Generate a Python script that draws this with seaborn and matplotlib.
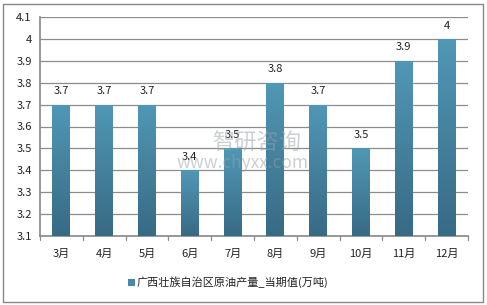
import matplotlib
matplotlib.use("Agg")
import matplotlib.pyplot as plt
import seaborn as sns
import numpy as np
import pandas as pd
from matplotlib.patches import Rectangle

months = ["3月", "4月", "5月", "6月", "7月", "8月", "9月", "10月", "11月", "12月"]
values = [3.7, 3.7, 3.7, 3.4, 3.5, 3.8, 3.7, 3.5, 3.9, 4.0]
value_labels = ["3.7", "3.7", "3.7", "3.4", "3.5", "3.8", "3.7", "3.5", "3.9", "4"]
series_name = "广西壮族自治区原油产量_当期值(万吨)"
yticks = [3.1, 3.2, 3.3, 3.4, 3.5, 3.6, 3.7, 3.8, 3.9, 4.0, 4.1]
ytick_labels = ["3.1", "3.2", "3.3", "3.4", "3.5", "3.6", "3.7", "3.8", "3.9", "4", "4.1"]

sns.set_theme(style="white")
plt.rcParams['font.family'] = ['Noto Sans CJK SC', 'DejaVu Sans']

df = pd.DataFrame({"month": months, "value": values})

fig = plt.figure(figsize=(4.87, 3.05), dpi=100)
ax = fig.add_axes([40/487, 1-236/305, 428/487, 219/305])

base = 3.1
sns.barplot(data=df, x="month", y=np.array(values) - base, ax=ax, color="#4a89a6",
            width=0.42, saturation=1, bottom=base)

ax.set_ylim(3.1, 4.1)
ax.set_xlim(-0.5, len(months) - 0.5)

# gradient fill
top_c = np.array([0x50, 0x98, 0xb6]) / 255
bot_c = np.array([0x38, 0x6a, 0x84]) / 255
grad = np.linspace(0, 1, 256)[:, None]
img = top_c[None, None, :] * (1 - grad[:, :, None]) + bot_c[None, None, :] * grad[:, :, None]
for p in ax.patches:
    x0, y0 = p.get_x(), p.get_y()
    w, h = p.get_width(), p.get_height()
    im = ax.imshow(img, extent=[x0, x0 + w, y0, y0 + h], aspect="auto", zorder=3,
                   origin="upper")
    im.set_clip_path(p)
    p.set_edgecolor("none")

ax.set_yticks(yticks)
ax.set_yticklabels(ytick_labels)
ax.yaxis.grid(True, color="#8c8c8c", linewidth=0.9)
ax.set_axisbelow(True)
for s in ["top", "right"]:
    ax.spines[s].set_visible(False)
ax.spines["left"].set_color("#8c8c8c")
ax.spines["bottom"].set_color("#8c8c8c")
ax.tick_params(axis="y", length=0, labelsize=8, pad=6, colors="#222222")
ax.tick_params(axis="x", length=0, labelsize=8, pad=9, colors="#222222")
ax.set_xlabel("")
ax.set_ylabel("")

# category boundary tick marks
for b in np.arange(-0.5, len(months), 1.0):
    ax.plot([b, b], [3.1, 3.1 - 0.018], color="#8c8c8c", lw=0.9, clip_on=False, zorder=4)

for i, (v, lab) in enumerate(zip(values, value_labels)):
    ax.annotate(lab, (i, v), xytext=(0, 6), textcoords="offset points",
                ha="center", va="bottom", fontsize=8, color="#222222", zorder=6)

# watermark
fig.text(257/487, 1-143/305, "智研咨询", fontsize=16, color="#9aa0a6", alpha=0.5,
         ha="center", va="center", zorder=10)
fig.text(243/487, 1-163/305, "www.chyxx.com", fontsize=12.5, color="#9aa0a6", alpha=0.5,
         ha="center", va="center", zorder=10)

# legend
fig.patches.append(Rectangle((128/487, 1-286/305), 7/487, 7/305, transform=fig.transFigure,
                             facecolor="#4a89a6", edgecolor="none"))
fig.text(137/487, 1-282/305, series_name, fontsize=8, color="#222222", ha="left", va="center")

# outer border
fig.patches.append(Rectangle((3/487, 3/305), 480/487, 298/305, transform=fig.transFigure,
                             facecolor="none", edgecolor="#888888", lw=1))

fig.savefig("out.png", dpi=100)
